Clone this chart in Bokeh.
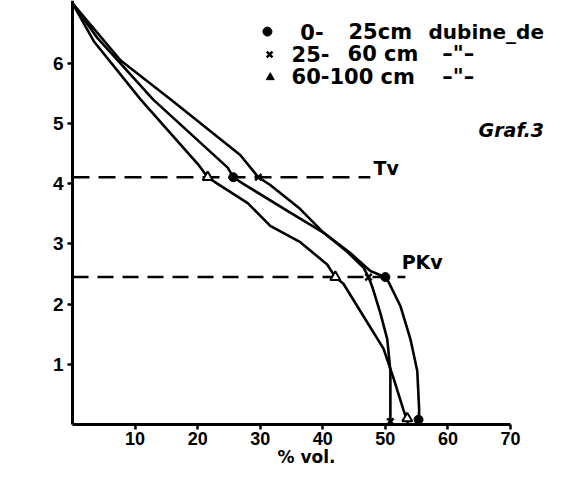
from bokeh.plotting import figure
from bokeh.models import Label, Range1d, FixedTicker
from bokeh.embed import file_html
from bokeh.resources import INLINE

# ---- data ----
# 0-25 cm (circles)
c_v  = [0, 4.0, 12.9, 24.8, 25.7, 27.3, 34.8, 40.1, 44.4, 47.6, 50.0, 50.5, 52.4, 54.0, 55.1, 55.4, 55.3]
c_pf = [7.0, 6.42, 5.4, 4.27, 4.11, 4.0, 3.52, 3.19, 2.85, 2.55, 2.45, 2.37, 1.97, 1.42, 0.89, 0.24, 0.0]
# 25-60 cm (crosses)
x_v  = [0, 7.7, 15.7, 26.8, 29.7, 31.6, 36.4, 40.1, 43.9, 46.5, 47.3, 47.9, 49.2, 50.3, 50.8, 50.8, 50.8]
x_pf = [7.0, 6.05, 5.4, 4.48, 4.11, 3.98, 3.58, 3.19, 2.87, 2.61, 2.45, 2.29, 1.85, 1.42, 0.89, 0.24, 0.0]
# 60-100 cm (triangles)
t_v  = [0, 3.4, 10.9, 20.1, 21.6, 23.2, 28.0, 31.6, 36.4, 40.7, 42.0, 43.3, 46.5, 49.7, 51.3, 52.9, 53.7]
t_pf = [7.0, 6.37, 5.4, 4.32, 4.11, 4.0, 3.68, 3.3, 3.03, 2.66, 2.45, 2.34, 1.8, 1.26, 0.77, 0.24, 0.0]

# marked points (Tv, PKv, saturation)
c_mv = [25.7, 50.0, 55.3]; c_mpf = [4.11, 2.45, 0.08]
x_mv = [29.7, 47.3, 50.8]; x_mpf = [4.11, 2.45, 0.05]
t_mv = [21.6, 42.0, 53.5]; t_mpf = [4.11, 2.45, 0.1]

tv_pf = 4.11
pk_pf = 2.45
tv_end = 47.6
pk_end = 53.2

x_ticks = [10, 20, 30, 40, 50, 60, 70]
y_ticks = [1, 2, 3, 4, 5, 6]

BOLD = "DejaVu Sans"
TICKF = "Liberation Sans"

p = figure(width=550, height=466, output_backend="svg", toolbar_location=None,
           x_range=Range1d(-11.51, 76.39), y_range=Range1d(-0.698, 7.047),
           min_border=0, min_border_left=0, min_border_right=0,
           min_border_top=0, min_border_bottom=0)
p.outline_line_color = None
p.grid.visible = False
p.background_fill_color = "white"

for ax in (p.xaxis, p.yaxis):
    ax.axis_line_width = 3
    ax.axis_line_color = "black"
    ax.major_tick_line_width = 2.5
    ax.major_tick_in = 0
    ax.major_tick_out = 5
    ax.minor_tick_in = 0
    ax.minor_tick_out = 0
    ax.major_label_text_font = TICKF
    ax.major_label_text_font_style = "bold"
    ax.major_label_text_color = "black"

p.xaxis.major_label_text_font_size = "18px"
p.yaxis.major_label_text_font_size = "19px"
p.xaxis.fixed_location = 0
p.yaxis.fixed_location = 0
p.xaxis.bounds = (0, 70)
p.yaxis.bounds = (0, 7.1)
p.xaxis.ticker = FixedTicker(ticks=x_ticks)
p.yaxis.ticker = FixedTicker(ticks=y_ticks)
p.xaxis.major_label_standoff = 2
p.yaxis.major_label_standoff = 4

# reference lines
p.line([0, tv_end], [tv_pf, tv_pf], line_color="black", line_width=2.5, line_dash="17 9")
p.line([0, pk_end], [pk_pf, pk_pf], line_color="black", line_width=2.5, line_dash="16 9")

# curves
for xs, ys in ((c_v, c_pf), (x_v, x_pf), (t_v, t_pf)):
    p.line(xs, ys, line_color="black", line_width=2.6)

# markers
p.scatter(c_mv, c_mpf, marker="circle", size=9, fill_color="black", line_color="black")
p.scatter(x_mv, x_mpf, marker="x", size=9, line_color="black", line_width=2.5)
p.scatter(t_mv, t_mpf, marker="triangle", size=10, fill_color="white", line_color="black", line_width=2)

# legend (hand-drawn like the original)
p.scatter([31.15], [6.53], marker="circle", size=9, fill_color="black", line_color="black")
p.scatter([31.5], [6.15], marker="x", size=8, line_color="black", line_width=2.5)
p.scatter([31.6], [5.77], marker="triangle", size=8, fill_color="black", line_color="black")

def lab(x, y, t, size="21px", style="bold", align="left", base="middle", font=BOLD):
    p.add_layout(Label(x=x, y=y, text=t, text_font=font, text_font_size=size,
                       text_font_style=style, text_align=align, text_baseline=base,
                       text_color="black"))

lab(36.4, 6.53, "0-")
lab(44.1, 6.53, "25cm")
lab(56.9, 6.53, "dubine_de", size="20px")
lab(35.0, 6.15, "25-")
lab(43.95, 6.15, "60 cm")
lab(59.1, 6.15, "–\"–")
lab(35.0, 5.77, "60-100 cm")
lab(59.1, 5.77, "–\"–")

lab(48.1, 4.27, "Tv", size="19px")
lab(52.6, 2.70, "PKv", size="19px")
lab(64.9, 4.89, "Graf.3", size="19px", style="bold italic")
lab(37.4, -0.37, "% vol.", size="17px", align="center", base="top")

open("out.html", "w").write(file_html(p, INLINE))
